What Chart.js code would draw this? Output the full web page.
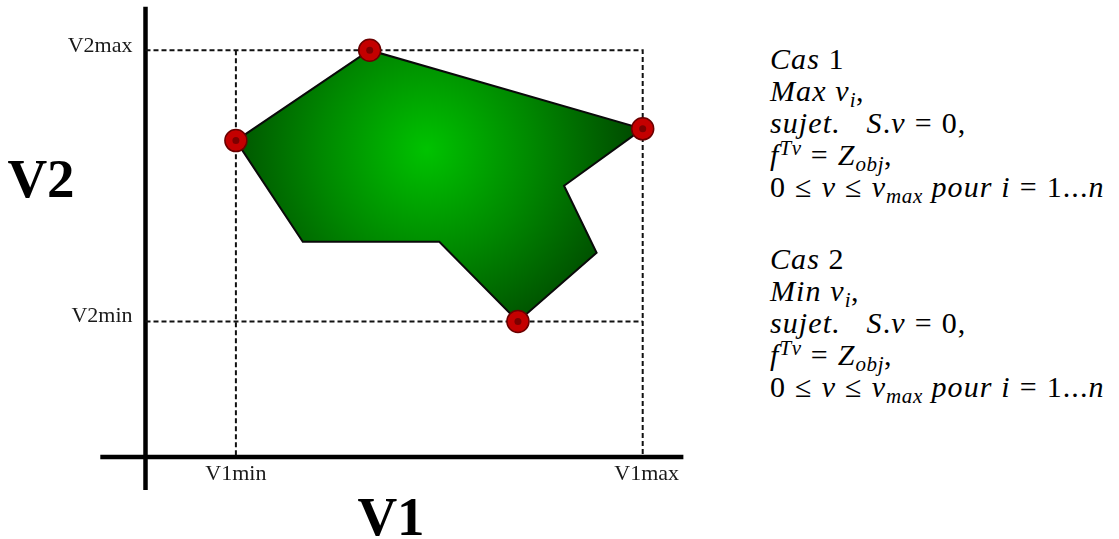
<!DOCTYPE html>
<html>
<head>
<meta charset="utf-8">
<script src="https://cdn.jsdelivr.net/npm/chart.js@4/dist/chart.umd.min.js"></script>
<style>
    html, body { margin: 0; padding: 0; background: #fff; }
    #wrap { position: relative; width: 1119px; height: 539px; overflow: hidden; }
    #plot { position: absolute; left: 0; top: 0; width: 740px; height: 539px; }
    .eqs { position: absolute; left: 770px; font-family: "Liberation Serif", serif; font-size: 30px; line-height: 32px; letter-spacing: 1.1px; color: #000; white-space: nowrap; }
    .eqs div { height: 32px; }
    .sb { font-size: 0.7em; position: relative; top: 0.28em; letter-spacing: 0.6px; }
    .sp { font-size: 0.7em; position: relative; top: -0.5em; letter-spacing: 0.6px; }
    .rel { margin: 0 0.3em; }
</style>
</head>
<body>
<div id="wrap">
    <div id="plot"><canvas id="regionChart"></canvas></div>
    <div class="eqs" style="top:43px;">
        <div><i>Cas</i> 1</div>
        <div><i>Max ν<span class="sb">i</span></i>,</div>
        <div><i>sujet.</i>&nbsp;&nbsp;&nbsp;<i>S</i>.<i>ν</i><span class="rel">=</span>0,</div>
        <div><i>f<span class="sp">Tv</span></i><span class="rel">=</span><i>Z<span class="sb">obj</span></i>,</div>
        <div>0<span class="rel">≤</span><i>ν</i><span class="rel">≤</span><i>ν<span class="sb">max</span> pour i</i><span class="rel">=</span>1...<i>n</i></div>
    </div>
    <div class="eqs" style="top:243px;">
        <div><i>Cas</i> 2</div>
        <div><i>Min ν<span class="sb">i</span></i>,</div>
        <div><i>sujet.</i>&nbsp;&nbsp;&nbsp;<i>S</i>.<i>ν</i><span class="rel">=</span>0,</div>
        <div><i>f<span class="sp">Tv</span></i><span class="rel">=</span><i>Z<span class="sb">obj</span></i>,</div>
        <div>0<span class="rel">≤</span><i>ν</i><span class="rel">≤</span><i>ν<span class="sb">max</span> pour i</i><span class="rel">=</span>1...<i>n</i></div>
    </div>
</div>
<script>
// feasible region (V1, V2), closed
const regionPts = [
    { x: 1.0, y: 3.5 },
    { x: 2.48, y: 4.5 },
    { x: 5.5, y: 3.63 },
    { x: 4.63, y: 3.0 },
    { x: 4.99, y: 2.26 },
    { x: 4.12, y: 1.5 },
    { x: 3.25, y: 2.38 },
    { x: 1.74, y: 2.38 },
    { x: 1.0, y: 3.5 }
];
// extreme vertices (red dots)
const extremePts = [
    { x: 1.0, y: 3.5 },
    { x: 2.48, y: 4.5 },
    { x: 5.5, y: 3.63 },
    { x: 4.12, y: 1.5 }
];
const v1Min = 1.0;
const v1Max = 5.5;
const v2Min = 1.5;
const v2Max = 4.5;
const xLabels = ['V1min', 'V1max'];
const yLabels = ['V2min', 'V2max'];
const axisX = [{ x: -0.5, y: 0 }, { x: 5.95, y: 0 }];
const axisY = [{ x: 0, y: -0.365 }, { x: 0, y: 4.98 }];
const glowCenter = { x: 3.11, y: 3.4 };

const PX = 90.4;
const xMin = -145.5 / PX, xMax = xMin + 740 / PX;
const yMax = 457 / PX, yMin = yMax - 539 / PX;

const dashStyle = { borderColor: '#111', borderWidth: 2, borderDash: [5, 3], showLine: true, pointRadius: 0, fill: false };

const regionFill = {
    id: 'regionFill',
    beforeDatasetDraw(chart, args) {
        if (chart.data.datasets[args.index].label !== 'region') return;
        const pts = args.meta.data;
        const { x, y } = chart.scales;
        const cx = x.getPixelForValue(glowCenter.x);
        const cy = y.getPixelForValue(glowCenter.y);
        const ctx = chart.ctx;
        const g = ctx.createRadialGradient(cx, cy, 0, cx, cy, 235);
        g.addColorStop(0, '#00c200');
        g.addColorStop(0.45, '#008800');
        g.addColorStop(1, '#003c00');
        ctx.save();
        ctx.beginPath();
        pts.forEach((p, i) => i === 0 ? ctx.moveTo(p.x, p.y) : ctx.lineTo(p.x, p.y));
        ctx.closePath();
        ctx.fillStyle = g;
        ctx.fill();
        ctx.restore();
    }
};

const axisText = {
    id: 'axisText',
    afterDraw(chart) {
        const { x, y } = chart.scales;
        const ctx = chart.ctx;
        const x0 = x.getPixelForValue(0);
        const y0 = y.getPixelForValue(0);
        ctx.save();
        ctx.fillStyle = '#1a1a1a';
        ctx.font = '22px "Liberation Serif"';
        ctx.textAlign = 'right';
        ctx.textBaseline = 'alphabetic';
        ctx.fillText(yLabels[0], x0 - 13, y.getPixelForValue(v2Min) + 1);
        ctx.fillText(yLabels[1], x0 - 13, y.getPixelForValue(v2Max) + 2);
        ctx.textAlign = 'center';
        ctx.fillText(xLabels[0], x.getPixelForValue(v1Min), y0 + 23);
        ctx.fillText(xLabels[1], x.getPixelForValue(v1Max) + 4, y0 + 23);
        ctx.fillStyle = '#000';
        ctx.font = 'bold 55px "Liberation Serif"';
        ctx.fillText('V2', 41, 197);
        ctx.fillText('V1', 391, 535);
        ctx.restore();
    }
};

new Chart(document.getElementById('regionChart'), {
    type: 'scatter',
    data: {
        datasets: [
            { label: 'dotCore', data: extremePts, pointRadius: 3.5, pointBackgroundColor: '#7c0000', pointBorderWidth: 0, showLine: false },
            { label: 'dots', data: extremePts, pointRadius: 11, pointBackgroundColor: '#c40000', pointBorderColor: '#6a0000', pointBorderWidth: 1.5, showLine: false },
            { label: 'region', data: regionPts, showLine: true, borderColor: '#0a0a0a', borderWidth: 2, pointRadius: 0, fill: false, borderJoinStyle: 'miter' },
            { label: 'v2max', data: [{ x: 0, y: v2Max }, { x: v1Max, y: v2Max }, { x: v1Max, y: 0 }], ...dashStyle },
            { label: 'v1min', data: [{ x: v1Min, y: v2Max }, { x: v1Min, y: 0 }], ...dashStyle },
            { label: 'v2min', data: [{ x: 0, y: v2Min }, { x: v1Max, y: v2Min }], ...dashStyle },
            { label: 'axisX', data: axisX, showLine: true, borderColor: '#000', borderWidth: 4.5, pointRadius: 0 },
            { label: 'axisY', data: axisY, showLine: true, borderColor: '#000', borderWidth: 4.5, pointRadius: 0 }
        ]
    },
    options: {
        responsive: true,
        maintainAspectRatio: false,
        animation: false,
        layout: { padding: 0, autoPadding: false },
        scales: {
            x: { type: 'linear', min: xMin, max: xMax, bounds: 'data', display: false },
            y: { type: 'linear', min: yMin, max: yMax, bounds: 'data', display: false }
        },
        plugins: {
            legend: { display: false },
            tooltip: { enabled: false }
        }
    },
    plugins: [regionFill, axisText]
});
</script>
</body>
</html>
